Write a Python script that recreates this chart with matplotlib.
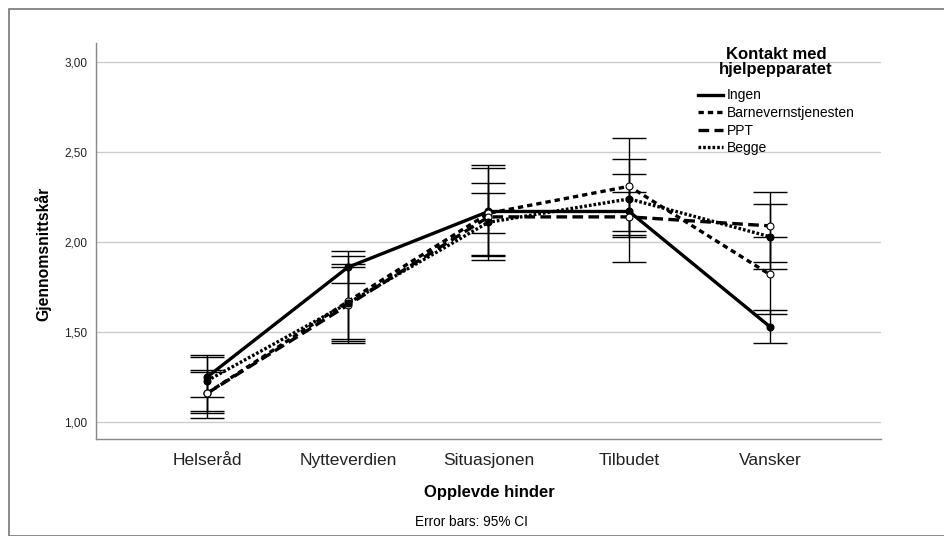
import matplotlib.pyplot as plt
from matplotlib.patches import Rectangle
from matplotlib.lines import Line2D

categories = ["Helseråd", "Nytteverdien", "Situasjonen", "Tilbudet", "Vansker"]
ytick_vals = [1.0, 1.5, 2.0, 2.5, 3.0]
ytick_labels = ["1,00", "1,50", "2,00", "2,50", "3,00"]

# means and 95% CI (lower, upper) per group
ingen = [1.25, 1.86, 2.17, 2.17, 1.53]
ingen_lo = [1.14, 1.77, 1.92, 1.89, 1.44]
ingen_hi = [1.36, 1.95, 2.41, 2.46, 1.62]

barnevern = [1.16, 1.67, 2.16, 2.31, 1.82]
barnevern_lo = [1.02, 1.45, 2.05, 2.04, 1.60]
barnevern_hi = [1.29, 1.88, 2.27, 2.58, 2.03]

ppt = [1.16, 1.65, 2.14, 2.14, 2.09]
ppt_lo = [1.05, 1.44, 1.90, 2.03, 1.89]
ppt_hi = [1.28, 1.86, 2.43, 2.28, 2.28]

begge = [1.23, 1.66, 2.11, 2.24, 2.03]
begge_lo = [1.06, 1.46, 1.93, 2.06, 1.85]
begge_hi = [1.37, 1.92, 2.33, 2.38, 2.21]

series = [
    ("Ingen", ingen, ingen_lo, ingen_hi, "-", "black"),
    ("Barnevernstjenesten", barnevern, barnevern_lo, barnevern_hi, (0, (1.6, 1.2)), "white"),
    ("PPT", ppt, ppt_lo, ppt_hi, (0, (3.2, 1.6)), "white"),
    ("Begge", begge, begge_lo, begge_hi, (0, (0.8, 0.6)), "black"),
]

plt.rcParams["font.family"] = ["Liberation Sans", "DejaVu Sans"]

fig = plt.figure(figsize=(9.45, 5.36), dpi=100)
ax = fig.add_axes([96 / 945, 1 - 439 / 536, (881 - 96) / 945, (439 - 43) / 536])

xs = list(range(len(categories)))
for name, mean, lo, hi, ls, mfc in series:
    yerr = [[m - l for m, l in zip(mean, lo)], [h - m for m, h in zip(mean, hi)]]
    ax.errorbar(xs, mean, yerr=yerr, fmt="none", ecolor="black",
                elinewidth=1.0, capsize=12.5, capthick=1.0, zorder=3)
    ax.plot(xs, mean, color="black", linestyle=ls, linewidth=2.4, zorder=4,
            solid_capstyle="butt", dash_capstyle="butt")
    ax.plot(xs, mean, linestyle="none", marker="o", markersize=5,
            markerfacecolor=mfc, markeredgecolor="black", markeredgewidth=0.8, zorder=5)

ax.set_xlim(-0.79, 4.79)
ax.set_ylim(0.906, 3.106)
ax.set_yticks(ytick_vals)
ax.set_yticklabels(ytick_labels, fontsize=8.5)
ax.set_xticks(xs)
ax.set_xticklabels(categories, fontsize=12.5)
ax.tick_params(axis="both", length=0, colors="#222222")
ax.tick_params(axis="x", pad=10)
ax.tick_params(axis="y", pad=6)
ax.grid(axis="y", color="#cccccc", linewidth=1.0)
ax.set_axisbelow(True)
for side in ["top", "right"]:
    ax.spines[side].set_visible(False)
for side in ["left", "bottom"]:
    ax.spines[side].set_color("#888888")
    ax.spines[side].set_linewidth(1.0)

fig.text(43 / 945, 1 - 254 / 536, "Gjennomsnittskår", fontsize=11.3, fontweight="bold",
         rotation=90, ha="center", va="center")
fig.text(489 / 945, 1 - 493 / 536, "Opplevde hinder", fontsize=12, fontweight="bold",
         ha="center", va="center")
fig.text(471 / 945, 1 - 522 / 536, "Error bars: 95% CI", fontsize=9.8, ha="center", va="center")

fig.text(776 / 945, 1 - 62 / 536, "Kontakt med\nhjelpepparatet", fontsize=12,
         fontweight="bold", ha="center", va="center", linespacing=0.95)

handles = [Line2D([], [], color="black", linestyle=s[4], linewidth=2.4) for s in series]
leg = ax.legend(handles, [s[0] for s in series],
                loc="upper left", bbox_to_anchor=(698 / 945, 1 - 88.5 / 536),
                bbox_transform=fig.transFigure, frameon=False, fontsize=10,
                handlelength=1.8, handletextpad=0.3, labelspacing=0.26,
                borderaxespad=0, borderpad=0)

fig.patches.append(Rectangle((9 / 945, 0), 1, 1 - 9 / 536, transform=fig.transFigure,
                             fill=False, edgecolor="#777777", linewidth=1.2))

fig.savefig("out.png", dpi=100)
